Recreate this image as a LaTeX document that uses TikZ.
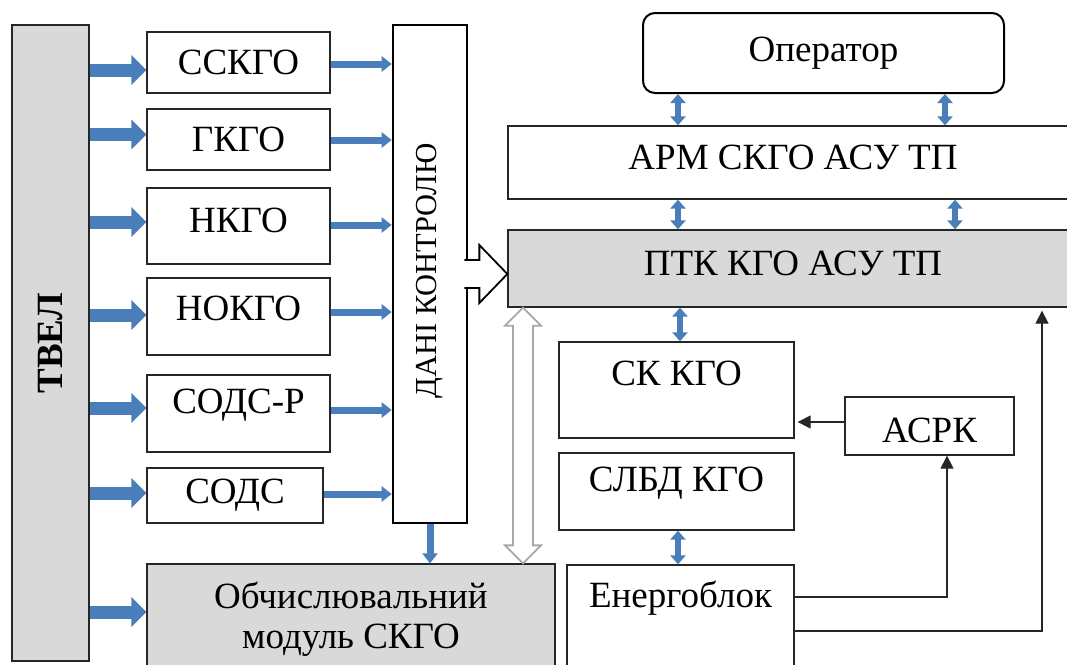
\documentclass[tikz,border=0pt]{standalone}
\usepackage{fontspec}
\setmainfont{Liberation Serif}
\usetikzlibrary{arrows.meta,calc}
\definecolor{ablue}{RGB}{74,126,187}
\definecolor{boxgray}{RGB}{217,217,217}
\definecolor{hgray}{RGB}{168,168,168}
\begin{document}
\begin{tikzpicture}[x=1pt,y=-1pt,
  txt/.style={font=\fontsize{37}{40}\selectfont, inner sep=0pt},
  box/.style={draw=black!85, line width=1.3pt, inner sep=0pt, fill=white, txt},
  graybox/.style={box, fill=boxgray},
  bigarr/.style={draw=ablue, line width=13pt, -{Triangle[length=15pt,width=29pt]}},
  midarr/.style={draw=ablue, line width=7pt, -{Triangle[length=10pt,width=15pt]}},
  dblarr/.style={draw=ablue, line width=6pt, {Triangle[length=9pt,width=15pt]}-{Triangle[length=9pt,width=15pt]}},
  blk/.style={draw=black!85, line width=1.3pt, -{Triangle[length=13pt,width=13pt]}},
  hollowblk/.style={draw=black, line width=1.8pt, line join=miter},
  hollowgray/.style={draw=hgray, line width=1.8pt, fill=white, line join=miter}]
\useasboundingbox (0,0) rectangle (1067,664);
\clip (0,0) rectangle (1067,664);
\fill[white] (0,0) rectangle (1067,664);

% left column
\node[graybox, minimum width=77, minimum height=636] (tvel) at (50.5,343) {};
\node[txt, rotate=90, font=\fontsize{37}{40}\selectfont\bfseries] (tveltxt) at (tvel.center) {ТВЕЛ};

\node[box, minimum width=183, minimum height=61] (sskgo) at (238.5,62.5) {ССКГО};
\node[box, minimum width=183, minimum height=61] (gkgo) at (238.5,139.5) {ГКГО};
\node[box, minimum width=183, minimum height=76, label={[txt, yshift=6pt]center:НКГО}] (nkgo) at (238.5,226) {};
\node[box, minimum width=183, minimum height=77, label={[txt, yshift=8.5pt]center:НОКГО}] (nokgo) at (238.5,316.5) {};
\node[box, minimum width=183, minimum height=77, label={[txt, yshift=8.5pt]center:СОДС-Р}] (sodsr) at (238.5,413.5) {};
\node[box, minimum width=176, minimum height=55] (sods) at (235,495.5) {СОДС};

\node[box, line width=2.6pt, draw=black, minimum width=74, minimum height=498] (dani) at (430,274) {};
\node[txt, rotate=90, font=\fontsize{30.5}{36}\selectfont] (danitxt) at (430,271) {ДАНІ КОНТРОЛЮ};

\node[graybox, minimum width=408, minimum height=140, align=center,
      label={[txt, align=center, yshift=15pt]center:Обчислювальний\\модуль СКГО}] (obch) at (351,634) {};

% right column
\node[box, line width=2pt, draw=black, rounded corners=12pt, minimum width=361, minimum height=80] (oper) at (823.5,53) {Оператор};
\node[box, minimum width=570, minimum height=73, label={[txt, yshift=5.5pt]center:АРМ СКГО АСУ ТП}] (arm) at (793,162.5) {};
\node[graybox, minimum width=570, minimum height=77, label={[txt, yshift=5.5pt]center:ПТК КГО АСУ ТП}] (ptk) at (793,268.5) {};
\node[box, minimum width=235, minimum height=96, label={[txt, yshift=17pt]center:СК КГО}] (sk) at (676.5,390) {};
\node[box, minimum width=235, minimum height=77, label={[txt, yshift=8.5pt]center:СЛБД КГО}] (slbd) at (676.5,491.5) {};
\node[box, minimum width=227, minimum height=135, label={[txt, yshift=34.5pt]center:Енергоблок}] (energo) at (680.5,632.5) {};
\node[box, minimum width=169, minimum height=58, label={[txt, yshift=-4pt]center:АСРК}] (asrk) at (929.5,426) {};

% left thick arrows
\coordinate (a1) at ([yshift=-7.5pt]sskgo.west);
\coordinate (a2) at ([yshift=5pt]gkgo.west);
\coordinate (a3) at ([yshift=4pt]nkgo.west);
\coordinate (a4) at ([yshift=1.5pt]nokgo.west);
\coordinate (a5) at ([yshift=5.5pt]sodsr.west);
\coordinate (a6) at ([yshift=2.5pt]sods.west);
\coordinate (a7) at ([yshift=22pt]obch.west);
\foreach \c in {a1,a2,a3,a4,a5,a6,a7}
  \draw[bigarr] (tvel.east |- \c) -- (\c);

% arrows into ДАНІ КОНТРОЛЮ
\foreach \b/\s in {sskgo/-1.5,gkgo/-0.5,nkgo/1,nokgo/4.5,sodsr/3.5,sods/1.5}
  \draw[midarr] ([yshift=\s pt]\b.east) -- ([yshift=\s pt]dani.west |- \b.east);
\draw[midarr] (dani.south) -- (dani.south |- obch.north);

% hollow arrow ДАНІ КОНТРОЛЮ -> ПТК
\coordinate (T) at ([yshift=-5.5pt]ptk.west);
\fill[white] ($(T)+(-45,-14)$) -- ($(T)+(-28,-14)$) -- ($(T)+(-28,-29)$) -- (T) -- ($(T)+(-28,29)$) -- ($(T)+(-28,14)$) -- ($(T)+(-45,14)$) -- cycle;
\draw[hollowblk] ($(T)+(-43,-14)$) -- ($(T)+(-28,-14)$) -- ($(T)+(-28,-29)$) -- (T) -- ($(T)+(-28,29)$) -- ($(T)+(-28,14)$) -- ($(T)+(-43,14)$);

% gray hollow double arrow ПТК <-> Обчислювальний модуль
\coordinate (g) at (523,0);
\coordinate (gt) at (g |- ptk.south);
\coordinate (gb) at (g |- obch.north);
\draw[hollowgray] (gt) -- ($(gt)+(18,18)$) -- ($(gt)+(10,18)$) -- ($(gb)+(10,-18)$) -- ($(gb)+(18,-18)$) -- (gb)
  -- ($(gb)+(-18,-18)$) -- ($(gb)+(-10,-18)$) -- ($(gt)+(-10,18)$) -- ($(gt)+(-18,18)$) -- cycle;

% blue double arrows on the right
\coordinate (x1) at (678,0);
\coordinate (x2) at (945,0);
\coordinate (x3) at (955,0);
\draw[dblarr] (x1 |- oper.south) -- (x1 |- arm.north);
\draw[dblarr] (x2 |- oper.south) -- (x2 |- arm.north);
\draw[dblarr] (x1 |- arm.south) -- (x1 |- ptk.north);
\draw[dblarr] (x3 |- arm.south) -- (x3 |- ptk.north);
\draw[dblarr] ([xshift=3.5pt]sk.north |- ptk.south) -- ([xshift=3.5pt]sk.north);
\draw[dblarr] ([xshift=1.5pt]slbd.south) -- ([xshift=1.5pt]slbd.south |- energo.north);

% thin black connectors
\coordinate (ay) at (0,422);
\coordinate (skr) at ([xshift=3pt]sk.east);
\draw[blk] (asrk.west |- ay) -- (skr |- ay);
\coordinate (e1) at (0,597);
\coordinate (e2) at (0,631);
\coordinate (v1) at (947,0);
\coordinate (v2) at (1042,0);
\draw[blk] (energo.east |- e1) -| (v1 |- asrk.south);
\draw[blk] (energo.east |- e2) -| ([yshift=-3pt]v2 |- ptk.south);
\end{tikzpicture}
\end{document}
